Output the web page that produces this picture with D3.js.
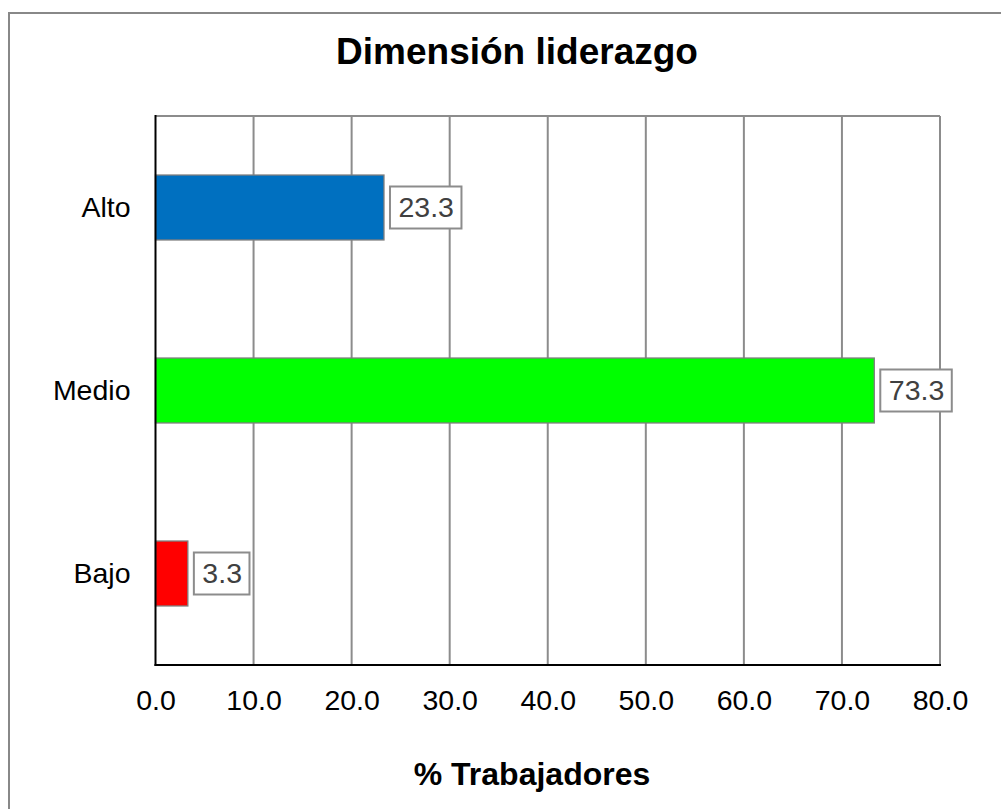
<!DOCTYPE html>
<html><head><meta charset="utf-8">
<script src="https://cdn.jsdelivr.net/npm/d3@7"></script>
<style>body{margin:0;background:#fff;}svg{display:block;font-family:"Liberation Sans",Arial,sans-serif;}</style>
</head><body>
<script>
const categories = ["Alto", "Medio", "Bajo"];
const values = [23.3, 73.3, 3.3];
const barColors = ["#0070C0", "#00FF00", "#FF0000"];
const tickValues = [0, 10, 20, 30, 40, 50, 60, 70, 80];
const title = "Dimensión liderazgo";
const xTitle = "% Trabajadores";

(function () {
const W = 1001, H = 809;
const svg = d3.select("body").append("svg").attr("width", W).attr("height", H);

// outer frame
svg.append("rect").attr("x", 9).attr("y", 13).attr("width", 1020).attr("height", 820)
  .attr("fill", "#fff").attr("stroke", "#888").attr("stroke-width", 2);

const pLeft = 155.5, pRight = 940, pTop = 116, pBottom = 665;
const x = d3.scaleLinear().domain([0, 80]).range([pLeft, pRight]);
const y = d3.scaleBand().domain(categories).range([pTop, pBottom]).paddingInner(0.645).paddingOuter(0.3225);

// gridlines
svg.append("g").selectAll("line").data(tickValues.slice(1)).join("line")
  .attr("x1", d => x(d)).attr("x2", d => x(d)).attr("y1", pTop).attr("y2", pBottom)
  .attr("stroke", "#8c8c8c").attr("stroke-width", 2);
// top border
svg.append("line").attr("x1", pLeft).attr("x2", pRight).attr("y1", pTop).attr("y2", pTop)
  .attr("stroke", "#8c8c8c").attr("stroke-width", 2);

// bars
svg.append("g").selectAll("rect").data(values).join("rect")
  .attr("x", x(0)).attr("y", (d, i) => y(categories[i]))
  .attr("width", d => x(d) - x(0)).attr("height", y.bandwidth())
  .attr("fill", (d, i) => barColors[i]).attr("stroke", "#7f7f7f").attr("stroke-width", 1.3);

// axes
svg.append("line").attr("x1", pLeft).attr("x2", pLeft).attr("y1", pTop - 1).attr("y2", pBottom + 1)
  .attr("stroke", "#000").attr("stroke-width", 2);
svg.append("line").attr("x1", pLeft - 1).attr("x2", pRight + 1).attr("y1", pBottom).attr("y2", pBottom)
  .attr("stroke", "#000").attr("stroke-width", 2);

// x tick labels
const xAxis = d3.axisBottom(x).tickValues(tickValues).tickFormat(d3.format(".1f")).tickSize(0).tickPadding(0);
const gx = svg.append("g").attr("transform", `translate(0,${pBottom})`).call(xAxis);
gx.select(".domain").remove();
gx.selectAll("text").attr("y", 45).attr("dy", 0).attr("font-size", 28.5)
  .attr("font-family", '"Liberation Sans",Arial,sans-serif').attr("fill", "#000");

// y labels
const yAxis = d3.axisLeft(y).tickSize(0).tickPadding(0);
const gy = svg.append("g").attr("transform", `translate(${pLeft},0)`).call(yAxis);
gy.select(".domain").remove();
gy.selectAll("text").attr("x", -25).attr("dy", "0.35em").attr("font-size", 28.5)
  .attr("font-family", '"Liberation Sans",Arial,sans-serif').attr("fill", "#000");

// value labels
const lab = svg.append("g").selectAll("g").data(values).join("g")
  .attr("transform", (d, i) => `translate(${x(d) + 6},${y(categories[i]) + y.bandwidth() / 2})`);
lab.append("text").attr("x", 8.5).attr("dy", "0.35em").attr("font-size", 28.5)
  .attr("fill", "#404040").text(d => d3.format(".1f")(d));
lab.each(function() {
  const g = d3.select(this);
  const bb = g.select("text").node().getBBox();
  g.insert("rect", "text").attr("x", 0).attr("y", -21).attr("width", bb.width + 16).attr("height", 42)
    .attr("fill", "#fff").attr("stroke", "#8c8c8c").attr("stroke-width", 2);
});

// titles
svg.append("text").attr("x", 517).attr("y", 64).attr("text-anchor", "middle")
  .attr("font-size", 37).attr("font-weight", "bold").text(title);
svg.append("text").attr("x", 532).attr("y", 785).attr("text-anchor", "middle")
  .attr("font-size", 32).attr("font-weight", "bold").text(xTitle);
})();
</script>
</body></html>
